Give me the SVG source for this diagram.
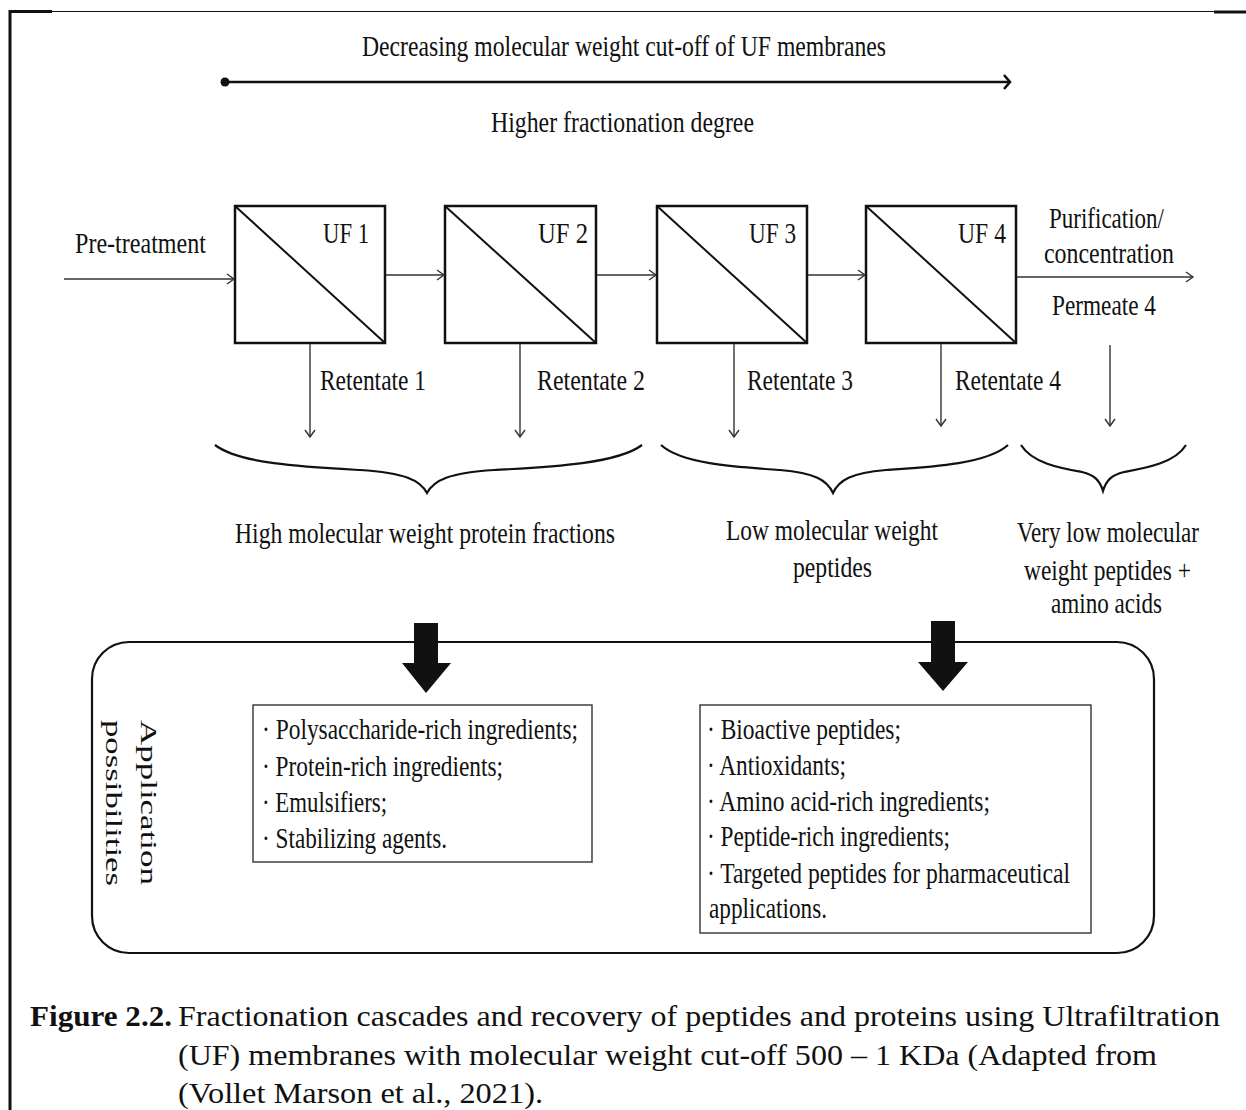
<svg xmlns="http://www.w3.org/2000/svg" width="1246" height="1110" viewBox="0 0 1246 1110">
  <style>
    text { font-family: "Liberation Serif", "Times New Roman", serif; fill: #111; }
    .lbl { font-size: 29px; }
    .uf { font-size: 30px; }
    .lst { font-size: 29px; }
    .cap { font-size: 29px; }
    .app { font-size: 24px; }
    .box { fill: #fff; stroke: #111; stroke-width: 2.5; }
    .diag { stroke: #111; stroke-width: 2; }
    .flow { stroke: #333; stroke-width: 1.4; fill: none; marker-end: url(#chev); }
    .brace { fill: none; stroke: #111; stroke-width: 2.2; }
    .lbox { fill: #fff; stroke: #333; stroke-width: 1.4; }
    .big { fill: #111; }
  </style>
  <defs>
    <marker id="chev" markerUnits="userSpaceOnUse" markerWidth="12" markerHeight="14" refX="8" refY="6" orient="auto">
      <path d="M1,1 L8,6 L1,11" fill="none" stroke="#333" stroke-width="1.4"/>
    </marker>
    <marker id="chevBig" markerUnits="userSpaceOnUse" markerWidth="12" markerHeight="18" refX="8" refY="8" orient="auto">
      <path d="M2,1 L8,8 L2,15" fill="none" stroke="#111" stroke-width="2.6"/>
    </marker>
  </defs>

  <rect width="1246" height="1110" fill="#fff"/>

  <g id="frame" stroke="#111">
    <line x1="10" y1="11.5" x2="1246" y2="11.5" stroke-width="1"/>
    <line x1="9" y1="11.5" x2="52" y2="11.5" stroke-width="3"/>
    <line x1="1214" y1="12" x2="1246" y2="12" stroke-width="3"/>
    <line x1="10" y1="10" x2="10" y2="1110" stroke-width="3"/>
  </g>

  <g id="header">
    <text class="lbl" x="362" y="56" textLength="524" lengthAdjust="spacingAndGlyphs">Decreasing molecular weight cut-off of UF membranes</text>
    <circle cx="225" cy="82" r="4.5" fill="#111"/>
    <line x1="225" y1="82" x2="1010" y2="82" stroke="#111" stroke-width="2.6" marker-end="url(#chevBig)"/>
    <text class="lbl" x="491" y="132" textLength="263" lengthAdjust="spacingAndGlyphs">Higher fractionation degree</text>
  </g>

  <g id="uf1">
    <rect class="box" x="235" y="206" width="150" height="137"/>
    <line class="diag" x1="235" y1="206" x2="385" y2="343"/>
    <text class="uf" x="323" y="243" textLength="46" lengthAdjust="spacingAndGlyphs">UF 1</text>
  </g>
  <g id="uf2">
    <rect class="box" x="445" y="206" width="151" height="137"/>
    <line class="diag" x1="445" y1="206" x2="596" y2="343"/>
    <text class="uf" x="538" y="243" textLength="50" lengthAdjust="spacingAndGlyphs">UF 2</text>
  </g>
  <g id="uf3">
    <rect class="box" x="657" y="206" width="150" height="137"/>
    <line class="diag" x1="657" y1="206" x2="807" y2="343"/>
    <text class="uf" x="749" y="243" textLength="47" lengthAdjust="spacingAndGlyphs">UF 3</text>
  </g>
  <g id="uf4">
    <rect class="box" x="866" y="206" width="150" height="137"/>
    <line class="diag" x1="866" y1="206" x2="1016" y2="343"/>
    <text class="uf" x="958" y="243" textLength="48" lengthAdjust="spacingAndGlyphs">UF 4</text>
  </g>

  <g id="connectors">
    <line class="flow" x1="64" y1="279" x2="234" y2="279"/>
    <line class="flow" x1="386" y1="275" x2="444" y2="275"/>
    <line class="flow" x1="597" y1="275" x2="656" y2="275"/>
    <line class="flow" x1="808" y1="275" x2="865" y2="275"/>
    <line class="flow" x1="1017" y1="277" x2="1193" y2="277"/>
    <line class="flow" x1="310" y1="344" x2="310" y2="437"/>
    <line class="flow" x1="520" y1="344" x2="520" y2="437"/>
    <line class="flow" x1="734" y1="344" x2="734" y2="437"/>
    <line class="flow" x1="941" y1="344" x2="941" y2="426"/>
    <line class="flow" x1="1110" y1="345" x2="1110" y2="426"/>
  </g>

  <g id="flow-labels">
    <text class="lbl" x="75" y="253" textLength="131" lengthAdjust="spacingAndGlyphs">Pre-treatment</text>
    <text class="lbl" x="1049" y="228" textLength="115" lengthAdjust="spacingAndGlyphs">Purification/</text>
    <text class="lbl" x="1044" y="263" textLength="130" lengthAdjust="spacingAndGlyphs">concentration</text>
    <text class="lbl" x="1052" y="315" textLength="104" lengthAdjust="spacingAndGlyphs">Permeate 4</text>
    <text class="lbl" x="320" y="390" textLength="106" lengthAdjust="spacingAndGlyphs">Retentate 1</text>
    <text class="lbl" x="537" y="390" textLength="108" lengthAdjust="spacingAndGlyphs">Retentate 2</text>
    <text class="lbl" x="747" y="390" textLength="106" lengthAdjust="spacingAndGlyphs">Retentate 3</text>
    <text class="lbl" x="955" y="390" textLength="106" lengthAdjust="spacingAndGlyphs">Retentate 4</text>
  </g>

  <g id="braces">
    <path class="brace" d="M215,445 C240,464 305,467 360,470 C405,473 420,480 427,493 C434,480 449,473 494,470 C549,467 617,464 642,445"/>
    <path class="brace" d="M661,445 C682,464 735,467 780,470 C815,473 827,480 833,493 C839,480 851,473 886,470 C931,467 987,464 1008,445"/>
    <path class="brace" d="M1021,445 C1032,463 1060,468 1082,472 C1095,475 1100,481 1103,491 C1106,481 1111,475 1124,472 C1146,468 1175,463 1186,445"/>
  </g>

  <g id="groups">
    <text class="lbl" x="235" y="543" textLength="380" lengthAdjust="spacingAndGlyphs">High molecular weight protein fractions</text>
    <text class="lbl" x="726" y="540" textLength="212" lengthAdjust="spacingAndGlyphs">Low molecular weight</text>
    <text class="lbl" x="793" y="577" textLength="79" lengthAdjust="spacingAndGlyphs">peptides</text>
    <text class="lbl" x="1017" y="542" textLength="182" lengthAdjust="spacingAndGlyphs">Very low molecular</text>
    <text class="lbl" x="1024" y="580" textLength="167" lengthAdjust="spacingAndGlyphs">weight peptides +</text>
    <text class="lbl" x="1051" y="613" textLength="111" lengthAdjust="spacingAndGlyphs">amino acids</text>
  </g>

  <g id="application-box">
    <rect x="92" y="642" width="1062" height="311" rx="37" ry="37" fill="none" stroke="#111" stroke-width="2.2"/>
    <text class="app" transform="translate(141,720) rotate(90)" textLength="165" lengthAdjust="spacingAndGlyphs">Application</text>
    <text class="app" transform="translate(106,720) rotate(90)" textLength="166" lengthAdjust="spacingAndGlyphs">possibilities</text>
  </g>

  <g id="big-arrow-1">
    <polygon class="big" points="414,623 438,623 438,663 451,663 426,693 402,663 414,663"/>
  </g>
  <g id="big-arrow-2">
    <polygon class="big" points="931,621 955,621 955,662 968,662 943,691 918,662 931,662"/>
  </g>

  <g id="list-left">
    <rect class="lbox" x="253" y="705" width="339" height="157"/>
    <text class="lst" x="262" y="739" textLength="316" lengthAdjust="spacingAndGlyphs">· Polysaccharide-rich ingredients;</text>
    <text class="lst" x="262" y="776" textLength="241" lengthAdjust="spacingAndGlyphs">· Protein-rich ingredients;</text>
    <text class="lst" x="262" y="812" textLength="125" lengthAdjust="spacingAndGlyphs">· Emulsifiers;</text>
    <text class="lst" x="262" y="848" textLength="185" lengthAdjust="spacingAndGlyphs">· Stabilizing  agents.</text>
  </g>

  <g id="list-right">
    <rect class="lbox" x="700" y="705" width="391" height="228"/>
    <text class="lst" x="707" y="739" textLength="194" lengthAdjust="spacingAndGlyphs">· Bioactive peptides;</text>
    <text class="lst" x="707" y="775" textLength="139" lengthAdjust="spacingAndGlyphs">· Antioxidants;</text>
    <text class="lst" x="707" y="811" textLength="283" lengthAdjust="spacingAndGlyphs">· Amino acid-rich ingredients;</text>
    <text class="lst" x="707" y="846" textLength="243" lengthAdjust="spacingAndGlyphs">· Peptide-rich ingredients;</text>
    <text class="lst" x="707" y="883" textLength="363" lengthAdjust="spacingAndGlyphs">· Targeted peptides for pharmaceutical</text>
    <text class="lst" x="709" y="918" textLength="118" lengthAdjust="spacingAndGlyphs">applications.</text>
  </g>

  <g id="caption">
    <text class="cap" x="30" y="1026" font-weight="bold" textLength="142" lengthAdjust="spacingAndGlyphs">Figure 2.2.</text>
    <text class="cap" x="178" y="1026" textLength="1042" lengthAdjust="spacingAndGlyphs">Fractionation cascades and recovery of peptides and proteins using Ultrafiltration</text>
    <text class="cap" x="178" y="1065" textLength="979" lengthAdjust="spacingAndGlyphs">(UF) membranes with molecular weight cut-off 500 – 1 KDa (Adapted from</text>
    <text class="cap" x="178" y="1103" textLength="365" lengthAdjust="spacingAndGlyphs">(Vollet Marson et al., 2021).</text>
  </g>
</svg>
